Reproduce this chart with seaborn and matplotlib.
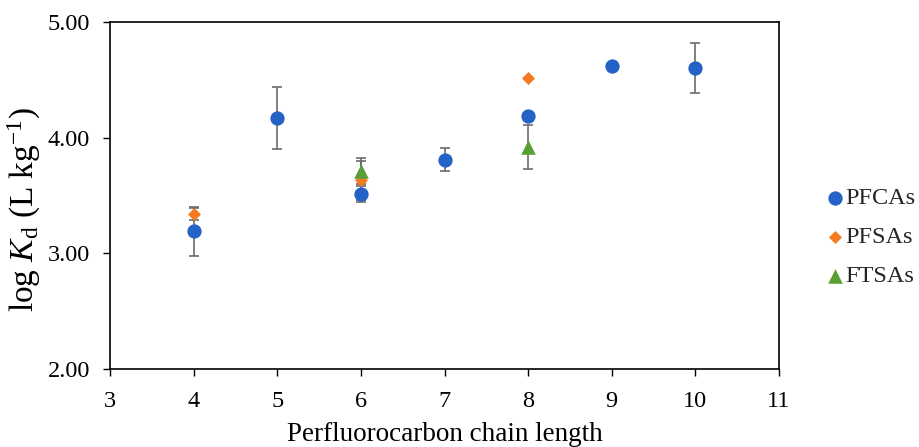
import matplotlib
matplotlib.use("Agg")
import matplotlib.pyplot as plt
import seaborn as sns
import pandas as pd

# Sorption coefficients (log Kd) by perfluorocarbon chain length
pfca_chain = [4, 5, 6, 7, 8, 9, 10]
pfca_logkd = [3.19, 4.17, 3.51, 3.81, 4.19, 4.62, 4.60]
pfca_err = [0.21, 0.27, 0.07, 0.10, 0.0, 0.0, 0.215]

pfsa_chain = [4, 6, 8]
pfsa_logkd = [3.34, 3.63, 4.52]
pfsa_err = [0.05, 0.17, 0.0]

ftsa_chain = [6, 8]
ftsa_logkd = [3.71, 3.92]
ftsa_err = [0.11, 0.19]

series_names = ["PFCAs", "PFSAs", "FTSAs"]
x_ticks = [3, 4, 5, 6, 7, 8, 9, 10, 11]
y_ticks = [2.0, 3.0, 4.0, 5.0]

sns.set_theme(style="ticks")
plt.rcParams["font.family"] = ["Liberation Serif", "DejaVu Serif"]
plt.rcParams["mathtext.fontset"] = "custom"
plt.rcParams["mathtext.rm"] = "Liberation Serif"
plt.rcParams["mathtext.it"] = "Liberation Serif:italic"

fig = plt.figure(figsize=(9.19, 4.47), dpi=100)
ax = fig.add_axes([0.1197, 0.1745, 0.7280, 0.7763])

styles = {
    "PFCAs": dict(marker="o", s=106, color="#2463C5"),
    "PFSAs": dict(marker="D", s=44, color="#F47B20"),
    "FTSAs": dict(marker="^", s=110, color="#5A9E36"),
}
data = {
    "PFCAs": (pfca_chain, pfca_logkd, pfca_err),
    "PFSAs": (pfsa_chain, pfsa_logkd, pfsa_err),
    "FTSAs": (ftsa_chain, ftsa_logkd, ftsa_err),
}

# error bars sit underneath the markers
for name in series_names:
    xs, ys, es = data[name]
    ax.errorbar(xs, ys, yerr=es, fmt="none", ecolor="#6B6B6B",
                elinewidth=1.2, capsize=3.4, capthick=1.2, zorder=2)

for name in series_names:
    xs, ys, es = data[name]
    df = pd.DataFrame({"chain": xs, "logkd": ys})
    st = styles[name]
    sns.scatterplot(data=df, x="chain", y="logkd", marker=st["marker"],
                    s=st["s"], color=st["color"], linewidth=0, label=name,
                    ax=ax, zorder=3)

ax.set_xlim(3, 11)
ax.set_ylim(2, 5)
ax.set_xticks(x_ticks)
ax.set_xticklabels([str(v) for v in x_ticks])
ax.set_yticks(y_ticks)
ax.set_yticklabels([f"{v:.2f}" for v in y_ticks])
ax.tick_params(axis="both", labelsize=17.5, length=5, width=1.0,
               color="black", labelcolor="black", direction="out")
ax.tick_params(axis="x", pad=10.5)
ax.tick_params(axis="y", pad=9.4)
for sp in ax.spines.values():
    sp.set_visible(True)
    sp.set_color("black")
    sp.set_linewidth(1.2)

ax.set_xlabel("Perfluorocarbon chain length", fontsize=19.5, color="black")
ax.xaxis.set_label_coords(0.5, -0.152)
ax.set_ylabel(r"log $K_\mathrm{d}$ (L kg$^{-1}$)", fontsize=24, color="black")
ax.yaxis.set_label_coords(-0.100, 0.458)

sns.move_legend(ax, "center left", bbox_to_anchor=(1.055, 0.38), frameon=False,
                title=None, fontsize=17.5, handlelength=0.8, handletextpad=0.0,
                labelspacing=0.7, borderaxespad=0.0, markerscale=1.0)

fig.savefig("out.png", dpi=100)
